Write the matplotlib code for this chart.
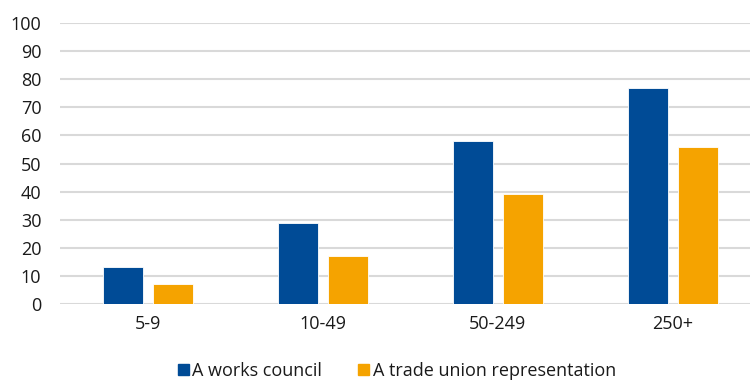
import matplotlib
matplotlib.use("Agg")
import matplotlib.pyplot as plt
import numpy as np
from matplotlib.patches import Patch

categories = ["5-9", "10-49", "50-249", "250+"]
works_council = [13, 29, 58, 77]
trade_union = [7, 17, 39, 56]
series_names = ["A works council", "A trade union representation"]
colors = ["#004b96", "#f5a300"]

plt.rcParams['font.family'] = ['Open Sans', 'DejaVu Sans']

W, H = 750, 380
fig = plt.figure(figsize=(W/100, H/100), dpi=100)
ax = fig.add_axes([60/W, 1-304/H, 700/W, 281/H])

x = np.arange(len(categories))
bw = 40/175
off = 25/175
ax.bar(x - off, works_council, bw, color=colors[0], edgecolor='white', linewidth=0.6, zorder=3)
ax.bar(x + off, trade_union, bw, color=colors[1], edgecolor='white', linewidth=0.6, zorder=3)

ax.set_xlim(-0.5, 3.5)
ax.set_ylim(0, 100)
ax.set_yticks(range(0, 101, 10))
ax.set_xticks(x)
ax.set_xticklabels(categories)
ax.grid(axis='y', color='#d9d9d9', linewidth=1.5, zorder=0)
for s in ax.spines.values():
    s.set_visible(False)
ax.tick_params(axis='both', length=0, labelsize=13, colors='#1a1a1a')
ax.tick_params(axis='y', pad=13.5)
ax.tick_params(axis='x', pad=8)

handles = [Patch(color=c) for c in colors]
fig.legend(handles, series_names, loc='center', bbox_to_anchor=(397/W, 1-371/H), ncol=2,
           frameon=False, fontsize=13, handlelength=0.6, handleheight=0.6,
           handletextpad=0.2, columnspacing=2.0, labelcolor='#1a1a1a')

fig.savefig("out.png", dpi=100)
